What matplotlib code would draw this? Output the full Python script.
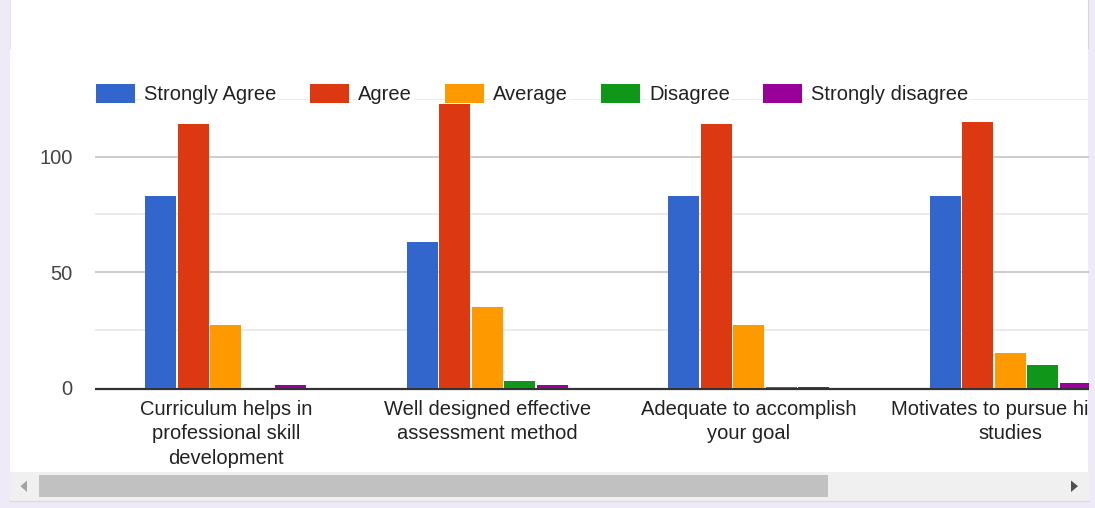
import matplotlib
matplotlib.use("Agg")
import matplotlib.pyplot as plt
from matplotlib.patches import Rectangle, Polygon
import numpy as np

categories = [
    "Curriculum helps in\nprofessional skill\ndevelopment",
    "Well designed effective\nassessment method",
    "Adequate to accomplish\nyour goal",
    "Motivates to pursue higher\nstudies",
]
series_names = ["Strongly Agree", "Agree", "Average", "Disagree", "Strongly disagree"]
strongly_agree = [83, 63, 83, 83]
agree = [114, 123, 114, 115]
average = [27, 35, 27, 15]
disagree = [0, 3, 0.5, 10]
strongly_disagree = [1, 1, 0.5, 2]
series_values = [strongly_agree, agree, average, disagree, strongly_disagree]
colors = ["#3366cc", "#dc3912", "#ff9900", "#109618", "#990099"]
y_ticks = [0, 50, 100]

W, H = 1095, 508
plt.rcParams['font.family'] = ['Liberation Sans', 'DejaVu Sans']
fig = plt.figure(figsize=(W / 100, H / 100), dpi=100)
fig.patch.set_facecolor("#eeeaf7")

def px_axes(zorder):
    a = fig.add_axes([0, 0, 1, 1], zorder=zorder)
    a.set_xlim(0, W)
    a.set_ylim(H, 0)
    a.axis("off")
    a.patch.set_alpha(0)
    return a

# background card
bg = px_axes(0)
bg.add_patch(Rectangle((10, 0), 1078, 501, facecolor="white", edgecolor="none"))

# main plot axes (in pixels: left 95, x-span 261.5 per category)
left_px, right_px = 95, 95 + 261.5 * 4
bottom_px_top = 387.7
top_px_top = 387.7 - 125 * 2.31
ax = fig.add_axes([left_px / W, (H - bottom_px_top) / H,
                   (right_px - left_px) / W, (bottom_px_top - top_px_top) / H], zorder=1)
ax.patch.set_alpha(0)

x = np.arange(len(categories))
pitch = 0.1243
bw = 0.1185
for i, (vals, c) in enumerate(zip(series_values, colors)):
    ax.bar(x + (i - 2) * pitch, vals, width=bw, color=c, zorder=4, linewidth=0)

ax.set_xlim(-0.5, len(categories) - 0.5)
ax.set_ylim(0, 125)
for v in [25, 75, 125]:
    ax.axhline(v, color="#ebebeb", lw=1.4, zorder=1)
for v in [50, 100]:
    ax.axhline(v, color="#cccccc", lw=1.4, zorder=1)
ax.plot([0, 1], [-0.45, -0.45], transform=ax.get_yaxis_transform(),
        color="#333333", lw=1.6, zorder=3, clip_on=False, solid_capstyle="butt")
for s in ax.spines.values():
    s.set_visible(False)
ax.set_yticks(y_ticks)
ax.set_yticklabels([str(t) for t in y_ticks], fontsize=14.5, color="#444444")
ax.tick_params(axis="y", length=0, pad=16)
ax.set_xticks(x)
ax.set_xticklabels(categories, fontsize=14.5, color="#222222", linespacing=1.35)
ax.tick_params(axis="x", length=0, pad=9)

# overlay: clipping strip, scrollbar, legend
ov = px_axes(2)
ov.add_patch(Rectangle((1088.5, 0), W - 1088.5, H, facecolor="#eeeaf7", edgecolor="none"))
ov.plot([1088.3, 1088.3], [0, 48], color="#d6d6d6", lw=0.8)
ov.plot([10.3, 10.3], [0, 48], color="#e6e6e6", lw=0.8)
ov.add_patch(Rectangle((10, 471.7), 1078.5, 29, facecolor="#f0f0f0", edgecolor="none"))
ov.add_patch(Rectangle((39, 475), 789, 22, facecolor="#c1c1c1", edgecolor="none"))
ov.add_patch(Polygon([[27, 480.5], [27, 492], [20.5, 486.2]], closed=True,
                     facecolor="#a3a3a3", edgecolor="none"))
ov.add_patch(Polygon([[1071, 480.5], [1071, 492], [1078, 486.2]], closed=True,
                     facecolor="#505050", edgecolor="none"))
ov.plot([10, 1088.5], [501.3, 501.3], color="#dcdcdc", lw=1.0)

leg_x = [96, 310, 445, 601, 763]
for lx, name, c in zip(leg_x, series_names, colors):
    ov.add_patch(Rectangle((lx, 84), 38.5, 18.5, facecolor=c, edgecolor="none"))
    ov.text(lx + 48, 94, name, fontsize=14.5, color="#222222", va="center", ha="left",
            bbox=dict(facecolor="white", edgecolor="none", pad=1.5))

fig.savefig("out.png", dpi=100, facecolor=fig.get_facecolor())
